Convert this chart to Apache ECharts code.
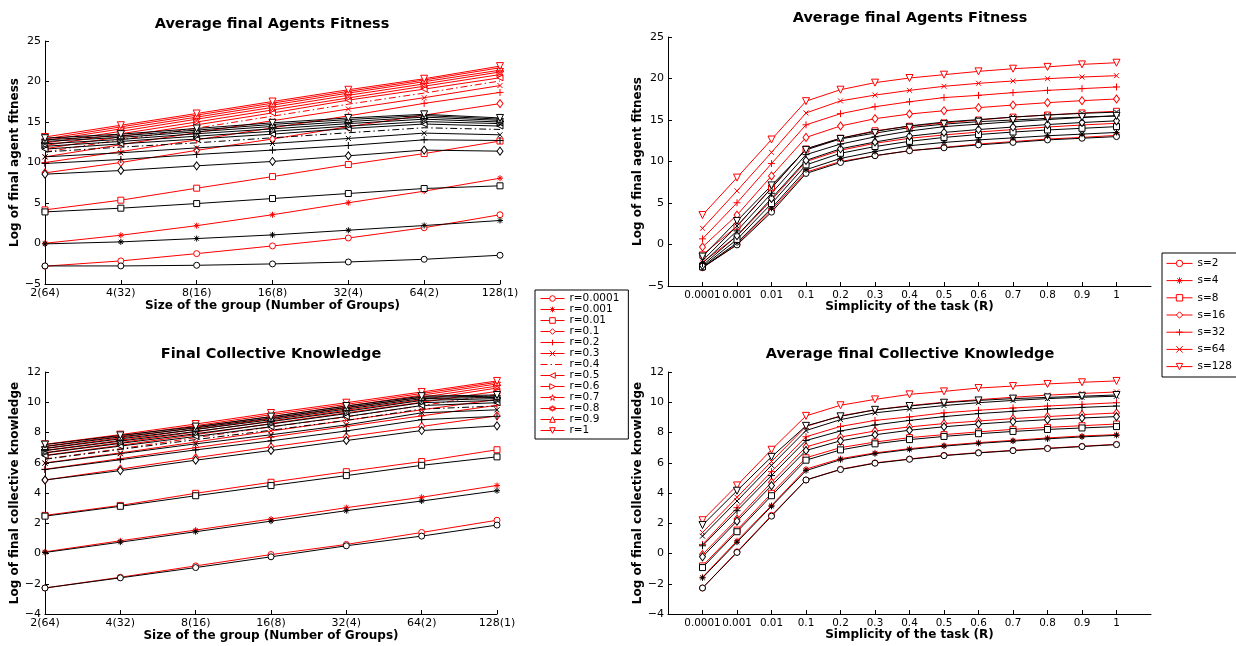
<!DOCTYPE html>
<html><head><meta charset="utf-8">
<script src="https://cdn.jsdelivr.net/npm/echarts@6/dist/echarts.min.js"></script>
<style>html,body{margin:0;padding:0;background:#fff}#c{width:1236px;height:646px}</style>
</head><body><div id="c"></div><script>
// ---------------- data ----------------
const groupLabels = ['2(64)','4(32)','8(16)','16(8)','32(4)','64(2)','128(1)'];
const sizeNames = ['s=2','s=4','s=8','s=16','s=32','s=64','s=128'];
const simplicityLabels = ['0.0001','0.001','0.01','0.1','0.2','0.3','0.4','0.5','0.6','0.7','0.8','0.9','1'];
const rNames = ['r=0.0001','r=0.001','r=0.01','r=0.1','r=0.2','r=0.3','r=0.4','r=0.5','r=0.6','r=0.7','r=0.8','r=0.9','r=1'];
// rows: r (simplicity), columns: group size s = 2..128
const fitnessRed = [
  [-2.8, -2.15, -1.25, -0.3, 0.68, 1.95, 3.55],
  [0.03, 1.02, 2.2, 3.55, 5.03, 6.46, 8.06],
  [4.15, 5.35, 6.83, 8.26, 9.75, 11.1, 12.65],
  [8.72, 10.0, 11.5, 12.9, 14.42, 15.85, 17.27],
  [10.0, 11.35, 12.8, 14.28, 15.76, 17.3, 18.65],
  [10.7, 12.2, 13.7, 15.16, 16.6, 18.0, 19.5],
  [11.3, 12.8, 14.25, 15.72, 17.2, 18.57, 20.06],
  [11.7, 13.2, 14.65, 16.12, 17.7, 19.06, 20.46],
  [12.1, 13.55, 15.0, 16.49, 17.97, 19.42, 20.86],
  [12.4, 13.85, 15.35, 16.8, 18.3, 19.7, 21.18],
  [12.7, 14.15, 15.6, 17.09, 18.57, 19.98, 21.4],
  [12.9, 14.4, 15.85, 17.33, 18.78, 20.18, 21.7],
  [13.15, 14.6, 16.05, 17.53, 18.98, 20.34, 21.9]
];
const fitnessBlack = [
  [-2.77, -2.77, -2.69, -2.52, -2.28, -1.95, -1.45],
  [-0.05, 0.2, 0.61, 1.06, 1.64, 2.22, 2.84],
  [3.9, 4.36, 4.93, 5.55, 6.17, 6.79, 7.12],
  [8.56, 9.01, 9.59, 10.13, 10.83, 11.53, 11.4],
  [9.88, 10.37, 10.99, 11.53, 12.1, 12.8, 12.72],
  [10.7, 11.2, 11.8, 12.35, 12.97, 13.63, 13.42],
  [11.3, 11.9, 12.43, 13.05, 13.67, 14.29, 14.08],
  [11.65, 12.3, 12.9, 13.5, 14.2, 14.75, 14.5],
  [12.0, 12.6, 13.25, 13.85, 14.5, 15.05, 14.8],
  [12.3, 12.85, 13.55, 14.15, 14.8, 15.35, 15.0],
  [12.6, 13.1, 13.8, 14.45, 15.05, 15.6, 15.2],
  [12.8, 13.3, 14.0, 14.7, 15.3, 15.8, 15.35],
  [13.0, 13.5, 14.2, 14.9, 15.5, 15.95, 15.5]
];
const knowledgeRed = [
  [-2.28, -1.57, -0.82, -0.07, 0.6, 1.39, 2.2],
  [0.11, 0.84, 1.55, 2.28, 3.03, 3.72, 4.5],
  [2.52, 3.18, 3.98, 4.71, 5.41, 6.08, 6.86],
  [4.86, 5.58, 6.33, 7.05, 7.72, 8.4, 9.1],
  [5.57, 6.27, 7.0, 7.7, 8.4, 9.1, 9.8],
  [5.99, 6.65, 7.37, 8.1, 8.8, 9.5, 10.19],
  [6.25, 6.93, 7.66, 8.37, 9.03, 9.78, 10.52],
  [6.49, 7.15, 7.86, 8.59, 9.3, 10.0, 10.72],
  [6.67, 7.33, 8.04, 8.76, 9.47, 10.17, 10.94],
  [6.82, 7.48, 8.21, 8.92, 9.62, 10.33, 11.07],
  [6.96, 7.64, 8.34, 9.05, 9.75, 10.47, 11.21],
  [7.09, 7.77, 8.45, 9.18, 9.86, 10.58, 11.32],
  [7.22, 7.86, 8.56, 9.29, 9.97, 10.68, 11.41]
];
const knowledgeBlack = [
  [-2.28, -1.61, -0.93, -0.22, 0.51, 1.15, 1.88],
  [0.07, 0.75, 1.44, 2.14, 2.83, 3.47, 4.15],
  [2.47, 3.12, 3.82, 4.49, 5.15, 5.83, 6.39],
  [4.86, 5.48, 6.17, 6.81, 7.47, 8.13, 8.44],
  [5.55, 6.2, 6.85, 7.45, 8.1, 8.85, 9.07],
  [5.97, 6.6, 7.25, 7.85, 8.5, 9.3, 9.5],
  [6.23, 6.88, 7.53, 8.15, 8.8, 9.55, 9.75],
  [6.47, 7.1, 7.74, 8.38, 9.05, 9.78, 9.97],
  [6.65, 7.28, 7.92, 8.56, 9.25, 9.97, 10.12],
  [6.8, 7.43, 8.07, 8.72, 9.4, 10.12, 10.24],
  [6.94, 7.58, 8.2, 8.85, 9.55, 10.24, 10.32],
  [7.07, 7.71, 8.3, 8.96, 9.66, 10.33, 10.4],
  [7.2, 7.81, 8.39, 9.05, 9.75, 10.4, 10.48]
];

// ---------------- styles ----------------
const FONT = '"DejaVu Sans", "Liberation Sans", Arial, sans-serif';
const RED = '#ff0000', BLACK = '#000000';
const DASHDOT = [7, 3, 1.5, 3];
const M = {
  circle: {symbol: 'circle', size: 6},
  asterisk: {symbol: 'path://M5,0L5,10M0,5L10,5M1.5,1.5L8.5,8.5M8.5,1.5L1.5,8.5', size: 6},
  square: {symbol: 'rect', size: 6},
  diamond: {symbol: 'diamond', size: [6, 8]},
  plus: {symbol: 'path://M5,0L5,10M0,5L10,5', size: 7},
  cross: {symbol: 'path://M0,0L10,10M10,0L0,10', size: 5},
  none: {symbol: 'none', size: 0},
  triL: {symbol: 'path://M0,5L10,0L10,10Z', size: 6},
  triR: {symbol: 'path://M10,5L0,0L0,10Z', size: 6},
  pent: {symbol: 'path://M5,0L6.12,3.45L9.76,3.45L6.82,5.59L7.94,9.05L5,6.91L2.06,9.05L3.18,5.59L0.24,3.45L3.88,3.45Z', size: 8},
  hex: {symbol: 'path://M5,0L9.33,7.5L0.67,7.5ZM5,10L0.67,2.5L9.33,2.5Z', size: 7},
  triU: {symbol: 'path://M5,0L10,10L0,10Z', size: 6},
  triD: {symbol: 'path://M0,0L10,0L5,10Z', size: 7}
};
const rMarkers = [M.circle, M.asterisk, M.square, M.diamond, M.plus, M.cross, M.none, M.triL, M.triR, M.pent, M.hex, M.triU, M.triD];
const sMarkers = [M.circle, M.asterisk, M.square, M.diamond, M.plus, M.cross, M.triD];

function mkSeries(name, data, color, marker, idx, dashed) {
  return {
    type: 'line', name, data, xAxisIndex: idx, yAxisIndex: idx,
    symbol: marker.symbol, symbolSize: marker.size, showSymbol: marker.symbol !== 'none',
    lineStyle: {color, width: 1, type: dashed ? DASHDOT : 'solid'},
    itemStyle: {color: '#fff', borderColor: color, borderWidth: 1},
    emphasis: {disabled: true}, silent: true, animation: false
  };
}

const series = [];
[[fitnessRed, fitnessBlack, 0], [knowledgeRed, knowledgeBlack, 1]].forEach(([red, black, g]) => {
  red.forEach((row, i) => series.push(mkSeries(rNames[i], row, RED, rMarkers[i], g, i === 6)));
  black.forEach((row, i) => series.push(mkSeries('k ' + rNames[i], row, BLACK, rMarkers[i], g, i === 6)));
});
[[fitnessRed, fitnessBlack, 2], [knowledgeRed, knowledgeBlack, 3]].forEach(([red, black, g]) => {
  sizeNames.forEach((nm, j) => series.push(mkSeries(nm, red.map((row, i) => [i + 1, row[j]]), RED, sMarkers[j], g, false)));
  sizeNames.forEach((nm, j) => series.push(mkSeries('k ' + nm, black.map((row, i) => [i + 1, row[j]]), BLACK, sMarkers[j], g, false)));
});

const grids = [
  {left: 45, top: 41, width: 455, height: 243},
  {left: 45, top: 372, width: 452, height: 242},
  {left: 668, top: 37, width: 483, height: 249},
  {left: 668, top: 372, width: 483, height: 242}
];
const axisCommon = {
  axisLine: {show: true, onZero: false, lineStyle: {color: '#000', width: 1}},
  axisTick: {show: true, inside: true, length: 4, lineStyle: {color: '#000', width: 1}},
  splitLine: {show: false},
  nameTextStyle: {fontFamily: FONT, fontSize: 12, fontWeight: 'bold', color: '#000'}
};
const labelStyle = {fontFamily: FONT, fontSize: 11, color: '#000', margin: 4,
  hideOverlap: false, showMinLabel: true, showMaxLabel: true};
const minus = v => String(v).replace('-', '\u2212');
function yAx(g, min, max, interval, name) {
  return Object.assign({}, axisCommon, {
    type: 'value', gridIndex: g, min, max, interval, name, nameLocation: 'middle', nameGap: 19,
    axisLabel: Object.assign({}, labelStyle, {formatter: minus})
  });
}
function xCat(g, name) {
  return Object.assign({}, axisCommon, {
    type: 'category', gridIndex: g, data: groupLabels, boundaryGap: false, name, nameLocation: 'middle', nameGap: 15,
    axisLabel: Object.assign({}, labelStyle, {interval: 0})
  });
}
function xVal(g, name) {
  const ticks = simplicityLabels.map((_, i) => i + 1);
  return Object.assign({}, axisCommon, {
    type: 'value', gridIndex: g, min: 0, max: 14, interval: 1, name, nameLocation: 'middle', nameGap: 15,
    axisTick: Object.assign({}, axisCommon.axisTick, {customValues: ticks}),
    axisLabel: Object.assign({}, labelStyle, {fontSize: 10.4, customValues: ticks,
      formatter: v => (v >= 1 && v <= 13) ? simplicityLabels[Math.round(v) - 1] : ''})
  });
}
function legendItems(names, markers) {
  return names.map((name, i) => {
    const hidden = markers[i].symbol === 'none';
    return {
      name,
      itemStyle: {color: hidden ? 'rgba(0,0,0,0)' : '#fff', borderColor: hidden ? 'rgba(0,0,0,0)' : RED, borderWidth: 1},
      lineStyle: {color: RED, width: 1, type: hidden ? DASHDOT : 'solid'}
    };
  });
}
const titleStyle = {fontFamily: FONT, fontSize: 14.5, fontWeight: 'bold', color: '#000'};
const legendCommon = {
  orient: 'vertical', selectedMode: false, borderColor: '#000', borderWidth: 1, borderRadius: 0,
  backgroundColor: '#fff', lineStyle: {width: 1}, itemStyle: {borderWidth: 1}
};
const option = {
  animation: false,
  backgroundColor: '#fff',
  title: [
    {text: 'Average final Agents Fitness', left: 272, top: 17, textAlign: 'center', padding: 0, textStyle: titleStyle},
    {text: 'Final Collective Knowledge', left: 271, top: 347, textAlign: 'center', padding: 0, textStyle: titleStyle},
    {text: 'Average final Agents Fitness', left: 910, top: 11, textAlign: 'center', padding: 0, textStyle: titleStyle},
    {text: 'Average final Collective Knowledge', left: 910, top: 347, textAlign: 'center', padding: 0, textStyle: titleStyle}
  ],
  grid: grids,
  xAxis: [
    xCat(0, 'Size of the group (Number of Groups)'),
    xCat(1, 'Size of the group (Number of Groups)'),
    xVal(2, 'Simplicity of the task (R)'),
    xVal(3, 'Simplicity of the task (R)')
  ],
  yAxis: [
    yAx(0, -5, 25, 5, 'Log of final agent fitness'),
    yAx(1, -4, 12, 2, 'Log of final collective knowledge'),
    yAx(2, -5, 25, 5, 'Log of final agent fitness'),
    yAx(3, -4, 12, 2, 'Log of final collective knowledge')
  ],
  legend: [
    Object.assign({}, legendCommon, {data: legendItems(rNames, rMarkers), left: 535, top: 290,
      itemWidth: 24, itemHeight: 7, itemGap: 0, padding: [3, 9, 3, 5],
      textStyle: {fontFamily: FONT, fontSize: 10.5, lineHeight: 10.6, color: '#000'}}),
    Object.assign({}, legendCommon, {data: legendItems(sizeNames, sMarkers), left: 1162, top: 253,
      itemWidth: 26, itemHeight: 8, itemGap: 5.2, padding: [4.4, 6, 4.4, 4],
      textStyle: {fontFamily: FONT, fontSize: 10.5, lineHeight: 12, color: '#000'}})
  ],
  series
};
const chart = echarts.init(document.getElementById('c'), null, {renderer: 'canvas'});
chart.setOption(option);
</script></body></html>
